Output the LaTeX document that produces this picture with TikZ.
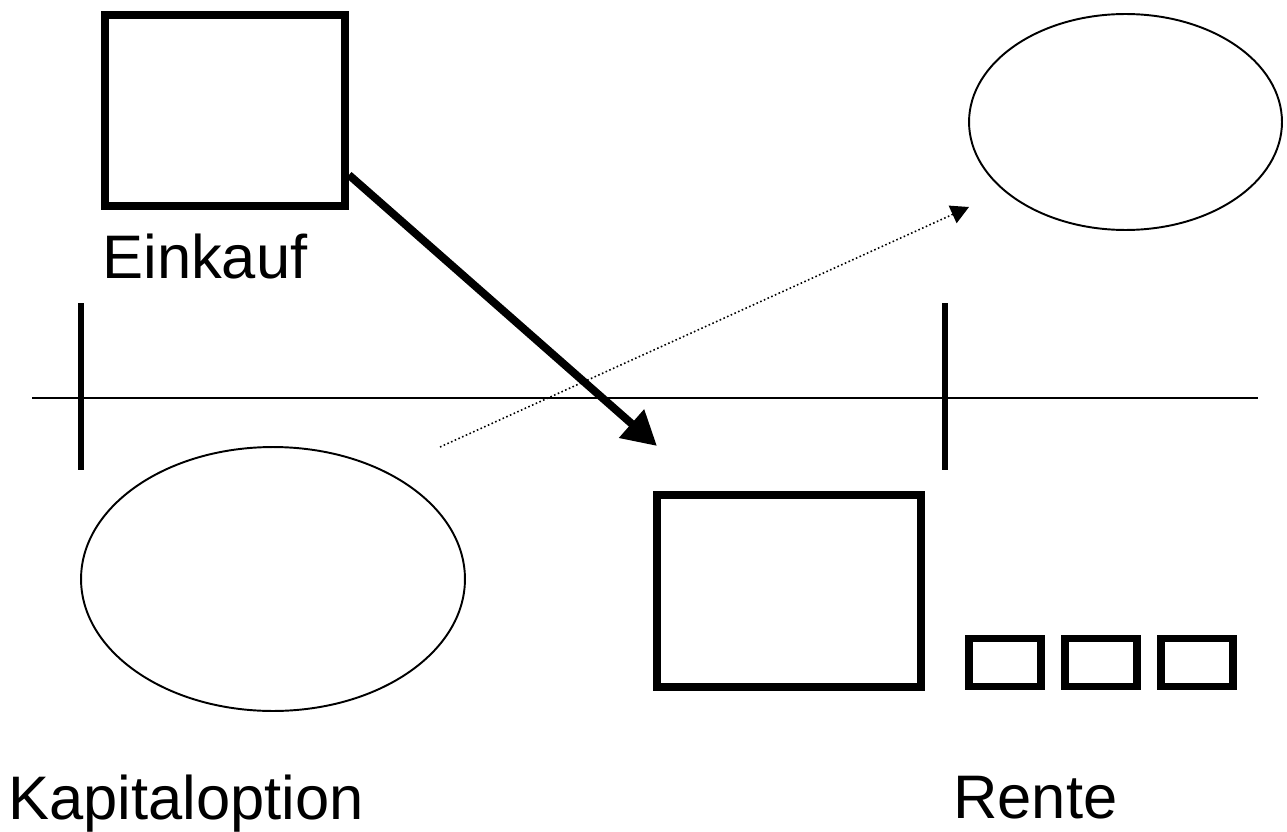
\documentclass[tikz,border=0pt]{standalone}
\usepackage{fontspec}
\setmainfont{Liberation Sans}
\usetikzlibrary{shapes.geometric,arrows.meta}

\begin{document}
\begin{tikzpicture}[x=0.02cm,y=-0.02cm]
\useasboundingbox (0,0) rectangle (1287,831);

\begin{scope}[every node/.style={draw,line width=4.5pt,inner sep=0pt}]
    \node (ek) at (225,110.5) [minimum width=4.8cm,minimum height=3.82cm] {};
    \node (kb) at (789,591) [minimum width=5.28cm,minimum height=3.84cm] {};
    \node (r1) at (1005,662.5) [minimum width=1.45cm,minimum height=0.96cm] {};
    \node (r2) at (1101,662.5) [minimum width=1.45cm,minimum height=0.96cm] {};
    \node (r3) at (1197,662.5) [minimum width=1.45cm,minimum height=0.96cm] {};
\end{scope}
\begin{scope}[every node/.style={ellipse,draw,line width=1.1pt,inner sep=0pt}]
    \node (eo) at (1125.5,122) [minimum width=6.26cm,minimum height=4.32cm] {};
    \node (eu) at (273,579) [minimum width=7.68cm,minimum height=5.28cm] {};
\end{scope}
\begin{scope}[every node/.style={anchor=base west,inner sep=0pt,font=\fontsize{35}{42}\selectfont}]
    \node (einkauf) at (102,278) {Einkauf};
    \node (kapital) at (8,819) {Kapitaloption};
    \node (rente) at (953,818) {Rente};
\end{scope}

\coordinate (al) at (32,398);
\coordinate (ar) at (1258,398);
\coordinate (tl1) at (81,303);
\coordinate (tl2) at (81,470);
\coordinate (tr1) at (945,303);
\coordinate (tr2) at (945,470);
\coordinate (tip) at (657,446);
\coordinate (ds) at (440,447);
\coordinate (dt) at (969,207);

\draw[line width=1.1pt] (al) -- (ar);
\draw[line width=3.4pt] (tl1) -- (tl2);
\draw[line width=3.4pt] (tr1) -- (tr2);
\draw[line width=4.5pt,-{Triangle[length=0.68cm,width=0.72cm]}] ([yshift=0.7cm]ek.south east) -- (tip);
\draw[line width=0.9pt,dash pattern=on 0.9pt off 1.4pt,-{Triangle[length=0.36cm,width=0.38cm]}] (ds) -- (dt);
\end{tikzpicture}
\end{document}
